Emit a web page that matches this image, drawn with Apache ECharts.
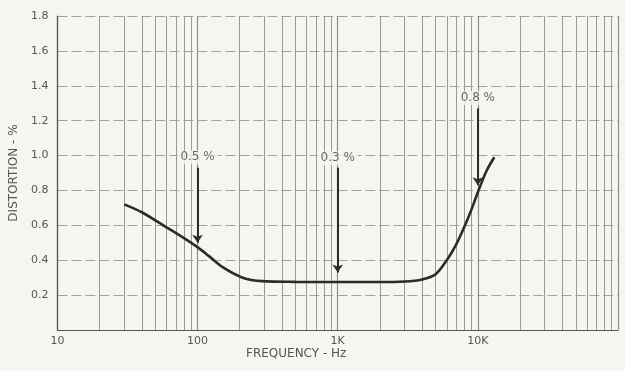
<!DOCTYPE html>
<html>
<head>
<meta charset="utf-8">
<script src="https://cdn.jsdelivr.net/npm/echarts@6/dist/echarts.min.js"></script>
<style>html,body{margin:0;padding:0;background:#f6f5ef;}#c{width:625px;height:371px;}</style>
</head>
<body>
<div id="c"></div>
<script>
// Curve (frequency in Hz, distortion in %)
var freq = [30, 40, 57, 79, 100, 120, 151, 210, 290, 500, 1000, 2000, 3000, 4000, 5000, 6000, 7000, 8000, 9000, 10000, 11500, 13100];
var dist = [0.72, 0.675, 0.60, 0.53, 0.475, 0.425, 0.36, 0.30, 0.280, 0.276, 0.275, 0.275, 0.278, 0.29, 0.32, 0.40, 0.49, 0.59, 0.69, 0.79, 0.91, 0.99];
// Annotation arrows
var annX = [100, 1000, 10000];
var annTop = [0.93, 0.93, 1.27];
var annTip = [0.50, 0.33, 0.83];
var annLabelY = [0.99, 0.985, 1.33];
var annText = ['0.5 %', '0.3 %', '0.8 %'];
// Minor log grid lines
var minorGrid = [];
[10, 100, 1000, 10000].forEach(function (d) { for (var k = 2; k <= 9; k++) minorGrid.push(k * d); });
var xTickLabels = {10: '10', 100: '100', 1000: '1K', 10000: '10K'};

var chart = echarts.init(document.getElementById('c'));
var lineData = freq.map(function (f, i) { return [f, dist[i]]; });
var arrowLines = annX.map(function (x, i) {
  return [{coord: [x, annTop[i]]}, {coord: [x, annTip[i]]}];
});
var labelData = annX.map(function (x, i) { return [x, annLabelY[i], annText[i]]; });
var fontFam = '"DejaVu Sans", sans-serif';

chart.setOption({
  backgroundColor: '#f6f5ef',
  animation: false,
  grid: {left: 53, right: 7, top: 16, bottom: 41},
  xAxis: {
    type: 'log', logBase: 10, min: 10, max: 100000,
    axisLine: {show: true, lineStyle: {color: '#555', width: 1.2}},
    axisTick: {show: false},
    axisLabel: {
      color: '#555', fontSize: 11, fontFamily: fontFam, margin: 6,
      formatter: function (v) { return xTickLabels[Math.round(v)] || ''; }
    },
    splitLine: {show: true, lineStyle: {color: '#8e8e88', width: 1.2}}
  },
  yAxis: {
    type: 'value', min: 0, max: 1.8, interval: 0.2,
    name: 'DISTORTION - %', nameLocation: 'middle', nameGap: 36,
    nameTextStyle: {color: '#555', fontSize: 12, fontFamily: fontFam},
    axisLine: {show: true, lineStyle: {color: '#555', width: 1.2}},
    axisTick: {show: false},
    axisLabel: {
      color: '#555', fontSize: 11, fontFamily: fontFam, margin: 9,
      formatter: function (v) { return v === 0 ? '' : v.toFixed(1); }
    },
    splitLine: {show: true, lineStyle: {color: '#a3a39c', width: 1, type: [10, 4]}}
  },
  graphic: [{
    type: 'text', left: 246, top: 348,
    style: {text: 'FREQUENCY - Hz', fill: '#555', font: '12px "DejaVu Sans", sans-serif'}
  }],
  series: [
    {
      type: 'line', data: [], silent: true,
      markLine: {
        silent: true, symbol: 'none', animation: false,
        label: {show: false},
        lineStyle: {color: '#9a9a94', width: 1, type: 'solid'},
        data: minorGrid.map(function (v) { return {xAxis: v}; })
      }
    },
    {
      type: 'line', data: lineData, smooth: 0.3, showSymbol: false,
      lineStyle: {color: '#2b2b2b', width: 2.6}, z: 5
    },
    {
      type: 'line', data: [], silent: true, z: 6,
      markLine: {
        silent: true, symbol: ['none', 'arrow'], symbolSize: 8, animation: false,
        label: {show: false},
        lineStyle: {color: '#2b2b2b', width: 2, type: 'solid'},
        data: arrowLines
      }
    },
    {
      type: 'scatter', data: labelData, symbolSize: 1, z: 7,
      itemStyle: {color: 'transparent'},
      label: {
        show: true, position: 'inside', color: '#444', fontSize: 12, fontFamily: fontFam,
        backgroundColor: '#f6f5ef', padding: [1, 3],
        formatter: function (p) { return p.data[2]; }
      }
    }
  ]
});
</script>
</body>
</html>
